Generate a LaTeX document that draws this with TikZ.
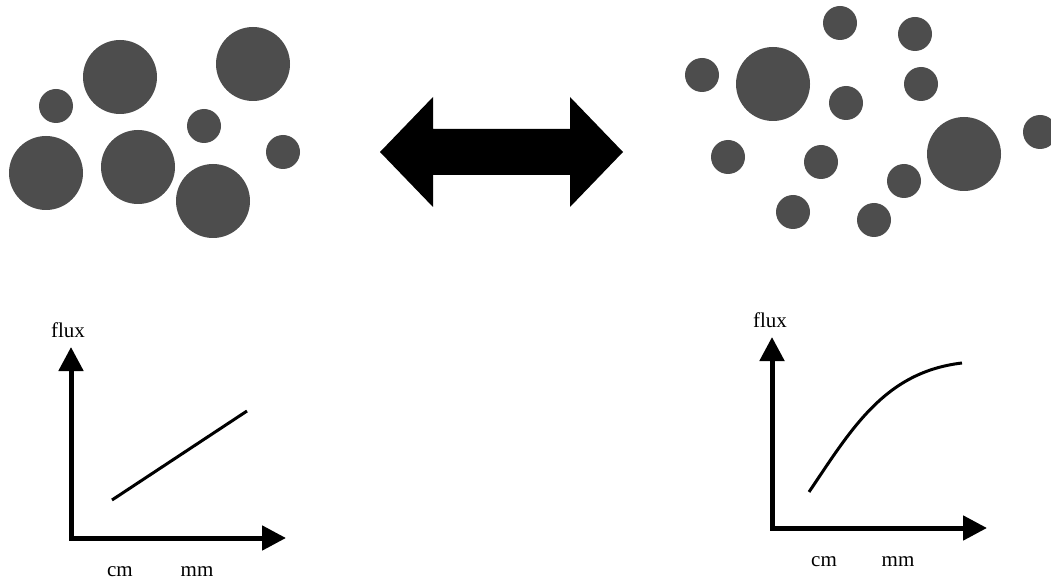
\documentclass[tikz,border=0pt]{standalone}
\usepackage{fontspec}
\setmainfont{Liberation Serif}
\usetikzlibrary{arrows.meta}
\definecolor{dot}{HTML}{4D4D4D}
\tikzset{
  dotfill/.style={fill=dot},
  axis/.style={line width=5pt, line join=miter,
    {Triangle[length=24pt,width=24pt]}-{Triangle[length=24pt,width=24pt]}},
  curveline/.style={line width=3pt},
  lbl/.style={font=\fontsize{21pt}{23pt}\selectfont, inner sep=0pt},
}
\begin{document}
\begin{tikzpicture}[x=1pt,y=-1pt]
\useasboundingbox (0,0) rectangle (1051,585);
\clip (0,0) rectangle (1051,585);
% left cluster
\foreach \x/\y/\r in {56/106/17, 120/77/37, 253/64/37, 204/126/17, 46/173/37, 138/167/37, 213/201/37, 283/152/17}
  \fill[dotfill] (\x,\y) circle[radius=\r];
% right cluster
\foreach \x/\y/\r in {840/23/17, 915/34/17, 702/75/17, 773/84/37, 846/103/17, 921/84/17, 728/157/17, 821/162/17, 964/154/37, 1040/132/17, 904/181/17, 793/212/17, 874/220/17}
  \fill[dotfill] (\x,\y) circle[radius=\r];
% double arrow
\fill[black] (380,152) -- (433,97) -- (433,129) -- (570,129) -- (570,97) -- (623,152) -- (570,207) -- (570,175) -- (433,175) -- (433,207) -- cycle;
% left graph
\coordinate (l-top) at (71,347);
\coordinate (l-o) at (71,538);
\coordinate (l-right) at (286,538);
\draw[axis] (l-top) -- (l-o) -- (l-right);
\coordinate (l-a) at (112,500);
\coordinate (l-b) at (247,411);
\draw[curveline] (l-a) -- (l-b);
\node[lbl] (lflux) at (68,330) {flux};
\node[lbl] (lcm) at (120,572) {cm};
\node[lbl] (lmm) at (197,572) {mm};
% right graph
\coordinate (r-top) at (772,337);
\coordinate (r-o) at (772,528);
\coordinate (r-right) at (987,528);
\draw[axis] (r-top) -- (r-o) -- (r-right);
\coordinate (r-a) at (809,492);
\coordinate (r-b) at (962,363);
\draw[curveline] (r-a) .. controls (852,428) and (885,372) .. (r-b);
\node[lbl] (rflux) at (770,320) {flux};
\node[lbl] (rcm) at (824,562) {cm};
\node[lbl] (rmm) at (898,562) {mm};
\end{tikzpicture}
\end{document}
